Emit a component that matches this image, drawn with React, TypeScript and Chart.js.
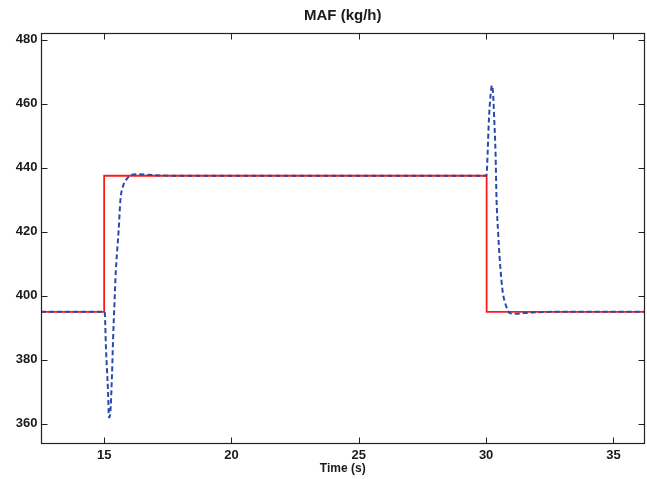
import React, { useEffect, useRef } from "react";
import { Chart, registerables } from "chart.js";

Chart.register(...registerables);

const titleText = "MAF (kg/h)";
const xLabel = "Time (s)";
const xTicks = [15, 20, 25, 30, 35];
const yTicks = [360, 380, 400, 420, 440, 460, 480];
const xMin = 12.52;
const xMax = 36.22;
const yMin = 353.7;
const yMax = 482.1;

const redTime = [12.52, 15.0, 15.0, 30.02, 30.02, 36.22];
const redMaf = [395, 395, 437.5, 437.5, 395, 395];

const blueTime = [
  12.52, 15.0, 15.02, 15.07, 15.11, 15.15, 15.19, 15.24, 15.31, 15.35, 15.4,
  15.46, 15.52, 15.57, 15.64, 15.74, 15.87, 16.07, 16.33, 16.7, 17.2, 18.0,
  30.0, 30.03, 30.06, 30.11, 30.17, 30.23, 30.28, 30.32, 30.37, 30.41, 30.47,
  30.53, 30.6, 30.66, 30.79, 30.92, 31.19, 31.5, 31.83, 32.9, 36.22,
];
const blueMaf = [
  395, 395, 395, 384, 377, 370.6, 362, 363.3, 375.8, 386.3, 396.7,
  408, 415, 420.6, 430, 434.2, 436.3, 437.8, 438, 437.8, 437.6, 437.5,
  437.5, 439, 444.6, 455, 462.3, 465.7, 462.3, 455, 444.6, 430, 420,
  412, 405, 400.8, 396.7, 394.6, 394.4, 394.6, 394.8, 395, 395,
];

const FONT = "'Liberation Sans', Arial, Helvetica, sans-serif";
const TEXT = "#1a1a1a";

const boxPlugin = {
  id: "matlabBox",
  afterDatasetsDraw(chart: any) {
    const { ctx, chartArea } = chart;
    const { left, right, top, bottom } = chartArea;
    const xs = chart.scales.x;
    const ys = chart.scales.y;
    ctx.save();
    ctx.strokeStyle = "#222";
    ctx.lineWidth = 1.2;
    const L = Math.round(left) + 0.5;
    const R = Math.round(right) - 0.5;
    const T = Math.round(top) + 0.5;
    const B = Math.round(bottom) - 0.5;
    ctx.strokeRect(L, T, R - L, B - T);
    const tl = 6;
    ctx.lineWidth = 1;
    ctx.beginPath();
    xs.ticks.forEach((t: any) => {
      const px = Math.round(xs.getPixelForValue(t.value)) + 0.5;
      ctx.moveTo(px, B);
      ctx.lineTo(px, B - tl);
      ctx.moveTo(px, T);
      ctx.lineTo(px, T + tl);
    });
    ys.ticks.forEach((t: any) => {
      const py = Math.round(ys.getPixelForValue(t.value)) + 0.5;
      ctx.moveTo(L, py);
      ctx.lineTo(L + tl, py);
      ctx.moveTo(R, py);
      ctx.lineTo(R - tl, py);
    });
    ctx.stroke();
    ctx.restore();
  },
};

export default function App() {
  const ref = useRef<HTMLCanvasElement | null>(null);

  useEffect(() => {
    document.body.style.margin = "0";
    const canvas = ref.current;
    if (!canvas) return;
    const chart = new Chart(canvas, {
      type: "line",
      data: {
        datasets: [
          {
            label: "MAF measured",
            data: blueTime.map((t, i) => ({ x: t, y: blueMaf[i] })),
            borderColor: "#2a4aa8",
            borderWidth: 2,
            borderDash: [5, 3],
            pointRadius: 0,
            fill: false,
            cubicInterpolationMode: "monotone",
            order: 0,
          },
          {
            label: "MAF reference",
            data: redTime.map((t, i) => ({ x: t, y: redMaf[i] })),
            borderColor: "#ff1a1a",
            borderWidth: 1.8,
            pointRadius: 0,
            fill: false,
            tension: 0,
            order: 1,
          },
        ],
      },
      options: {
        responsive: false,
        animation: false,
        devicePixelRatio: 1,
        layout: { padding: { top: 0, right: 2.5, bottom: 0, left: 0 } },
        plugins: {
          legend: { display: false },
          tooltip: { enabled: false },
          title: {
            display: true,
            text: titleText,
            fullSize: false,
            color: TEXT,
            font: { family: FONT, size: 15, weight: "bold", lineHeight: 1.2 },
            padding: { top: 6.5, bottom: 8.5 },
          },
        },
        scales: {
          x: {
            type: "linear",
            min: xMin,
            max: xMax,
            afterBuildTicks: (s: any) => {
              s.ticks = xTicks.map((v) => ({ value: v }));
            },
            afterFit: (s: any) => {
              s.height = 35;
            },
            grid: { display: false, drawTicks: false },
            border: { display: false },
            ticks: {
              color: TEXT,
              padding: 3.5,
              maxRotation: 0,
              font: { family: FONT, size: 13, weight: "bold" },
            },
            title: {
              display: true,
              text: xLabel,
              color: TEXT,
              font: { family: FONT, size: 12, weight: "bold", lineHeight: 1.2 },
              padding: { top: 0, bottom: 3 },
            },
          },
          y: {
            type: "linear",
            min: yMin,
            max: yMax,
            afterBuildTicks: (s: any) => {
              s.ticks = yTicks.map((v) => ({ value: v }));
            },
            afterFit: (s: any) => {
              s.width = 41;
            },
            grid: { display: false, drawTicks: false },
            border: { display: false },
            ticks: {
              color: TEXT,
              padding: 3.5,
              font: { family: FONT, size: 13, weight: "bold" },
            },
          },
        },
      },
      plugins: [boxPlugin],
    } as any);
    return () => chart.destroy();
  }, []);

  return (
    <div style={{ width: 647, height: 479, background: "#fff" }}>
      <canvas ref={ref} width={647} height={479} style={{ display: "block" }} />
    </div>
  );
}
